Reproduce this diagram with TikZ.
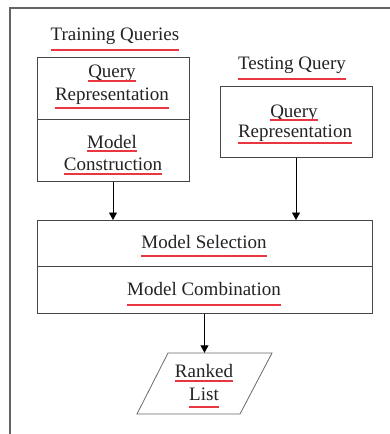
\documentclass[tikz,border=0pt]{standalone}
\usepackage{fontspec}
\setmainfont{Liberation Serif}
\usetikzlibrary{arrows.meta}
\definecolor{inkc}{RGB}{35,35,35}
\definecolor{edgec}{RGB}{70,70,70}
\definecolor{framec}{RGB}{100,100,100}
\definecolor{redmark}{RGB}{232,55,65}
% red underline below a label, at a given depth
\newcommand\redul[2]{\draw[redline] (#1.west |- 0,#2) -- (#1.east |- 0,#2);}

\begin{document}
\begin{tikzpicture}[x=1pt,y=-1pt,
  lbl/.style={inner sep=0pt, anchor=base, text=inkc, font=\fontsize{19}{22}\selectfont},
  box/.style={draw=edgec, line width=0.9pt, inner sep=0pt, anchor=north west},
  redline/.style={draw=redmark, line width=1.1pt},
  flow/.style={draw=black, line width=0.9pt, -{Triangle[length=7.5pt,width=8pt]}},
]
\useasboundingbox (0,0) rectangle (390,434);
\fill[white] (0,0) rectangle (390,434);

% frame (left and top edges)
\draw[framec, line width=1.6pt] (10,434) -- (10,8) -- (390,8);

% training side
\node[box, minimum width=152pt, minimum height=62pt] (lq) at (37,57) {};
\node[box, minimum width=152pt, minimum height=62pt] (lm) at (37,119) {};
\node[lbl] (ttr) at (115,40) {Training Queries};
\node[lbl] (lq1) at (112,77) {Query};
\node[lbl] (lq2) at (112,100) {Representation};
\node[lbl] (lm1) at (112,148) {Model};
\node[lbl] (lm2) at (113,170) {Construction};

% testing side
\node[box, minimum width=152pt, minimum height=71pt] (rq) at (220,86) {};
\node[lbl] (tte) at (292,69) {Testing Query};
\node[lbl] (rq1) at (294,117) {Query};
\node[lbl] (rq2) at (295,137) {Representation};

% selection / combination
\node[box, minimum width=335pt, minimum height=46pt] (sel) at (37,220) {};
\node[box, minimum width=335pt, minimum height=47pt] (com) at (37,266) {};
\node[lbl] (sel1) at (204,248) {Model Selection};
\node[lbl] (com1) at (204,295) {Model Combination};

% output
\node[inner sep=0pt, minimum width=104pt, minimum height=61pt] (out) at (204.5,383.5) {};
\draw[edgec!80, line width=0.8pt] (168,353) -- (272,353) -- (240,414) -- (137,414) -- cycle;
\node[lbl] (out1) at (204,377) {Ranked};
\node[lbl] (out2) at (204,400) {List};

% connectors
\draw[flow] (lm.south -| 113,0) -- (sel.north -| 113,0);
\draw[flow] (rq.south -| 296,0) -- (sel.north -| 296,0);
\draw[flow] (com.south -| out.north) -- (out.north);

% underlines
\redul{ttr}{50}
\redul{lq1}{81}
\redul{lq2}{108}
\redul{lm1}{151}
\redul{lm2}{174}
\redul{tte}{79}
\redul{rq1}{120}
\redul{rq2}{143}
\redul{sel1}{256}
\redul{com1}{305}
\redul{out1}{381}
\redul{out2}{407}
\end{tikzpicture}
\end{document}
